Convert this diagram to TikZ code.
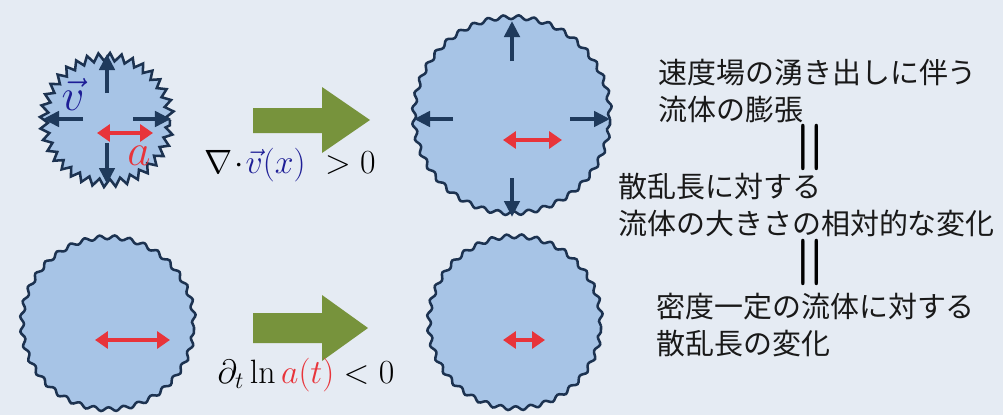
\documentclass[tikz,border=0pt]{standalone}
\usepackage{fix-cm}
\usepackage{fontspec}
\usepackage{xcolor}
\newfontfamily\jpfont{Noto Sans CJK JP}
\usetikzlibrary{arrows.meta, decorations.pathmorphing, positioning}

\definecolor{bgblue}{RGB}{229,235,243}
\definecolor{fluid}{RGB}{167,196,230}
\definecolor{rim}{RGB}{28,50,80}
\definecolor{flow}{RGB}{31,58,92}
\definecolor{scat}{RGB}{232,52,58}
\definecolor{olive}{RGB}{119,147,60}
\definecolor{vblue}{RGB}{30,30,150}

\tikzset{
  spiky/.style={fill=fluid, draw=rim, line width=1.8pt, decorate,
    decoration={zigzag, segment length=0.275cm, amplitude=0.1cm}},
  wavy/.style={fill=fluid, draw=rim, line width=1.8pt, decorate,
    decoration={snake, segment length=#1, amplitude=0.05cm}},
  flowarrow/.style={draw=flow, line width=3.5pt, -{Triangle[length=0.4cm, width=0.38cm]}},
  lenarrow/.style={draw=scat, line width=3.2pt,
    {Triangle[length=0.32cm, width=0.42cm]}-{Triangle[length=0.32cm, width=0.42cm]}},
  bigarrow/.style={fill=olive},
  jptext/.style={font=\jpfont\fontsize{20.6}{25.8}\selectfont, text=black!90, align=left, inner sep=0pt, anchor=west},
  eqsign/.style={font=\fontsize{44}{44}\selectfont\bfseries, rotate=90, inner sep=0pt},
  mathlabel/.style={font=\fontsize{24}{28}\selectfont, inner sep=0pt}
}

\begin{document}
\begin{tikzpicture}[x=0.025cm, y=-0.025cm]

    % Background
    \fill[bgblue] (0,0) rectangle (1003,415);
    \useasboundingbox (0,0) rectangle (1003,415);

    % Centres of the four fluid blobs
    \coordinate (small) at (107,120);
    \coordinate (grown) at (512,119);
    \coordinate (before) at (108,327);
    \coordinate (after) at (515,326);

    % Upper row: small blob with outflow
    \path[spiky] (small) circle[radius=1.575cm];
    \draw[flowarrow] (107,93) -- (107,54);
    \draw[flowarrow] (83,119) -- (43,119);
    \draw[flowarrow] (133,119) -- (171,119);
    \draw[flowarrow] (107,143) -- (107,184);
    \draw[lenarrow] (97,133) -- (153,133);
    \node[text=vblue, font=\fontsize{32}{32}\selectfont, inner sep=0pt] (vel) at (73,94) {$\vec v$};
    \node[text=scat, font=\fontsize{32}{32}\selectfont, inner sep=0pt] (len) at (139,156) {$a$};

    % Upper row: green arrow and divergence
    \fill[bigarrow] (253,108) -- (322,108) -- (322,87) -- (370,120)
        -- (322,153) -- (322,133) -- (253,133) -- cycle;
    \node[mathlabel] (divlabel) at (290,165)
        {$\nabla\!\cdot\!\textcolor{vblue}{\vec v(x)}\ > 0$};

    % Upper row: expanded blob
    \path[wavy=0.385cm] (grown) circle[radius=2.45cm];
    \draw[flowarrow] (512,61) -- (512,21);
    \draw[flowarrow] (453,119) -- (414,119);
    \draw[flowarrow] (570,119) -- (610,119);
    \draw[flowarrow] (512,178) -- (512,217);
    \draw[lenarrow] (503,140) -- (562,140);

    % Lower row: blob with fixed size, scattering length shrinks
    \path[wavy=0.375cm] (before) circle[radius=2.15cm];
    \draw[lenarrow] (95,340) -- (170,340);
    \fill[bigarrow] (253,313) -- (322,313) -- (322,295) -- (368,328)
        -- (322,361) -- (322,343) -- (253,343) -- cycle;
    \node[mathlabel] (loglabel) at (306,375)
        {$\partial_t \ln \textcolor{scat}{a(t)} < 0$};
    \path[wavy=0.375cm] (after) circle[radius=2.15cm];
    \draw[lenarrow] (503,340) -- (545,340);

    % Right column text
    \node[jptext] (growth) at (658,91) {速度場の湧き出しに伴う\\流体の膨張};
    \node[eqsign] (eqone) at (814,147) {=};
    \node[jptext] (relative) at (618,205) {散乱長に対する\\流体の大きさの相対的な変化};
    \node[eqsign] (eqtwo) at (814,262) {=};
    \node[jptext] (change) at (656,325) {密度一定の流体に対する\\散乱長の変化};

\end{tikzpicture}
\end{document}
